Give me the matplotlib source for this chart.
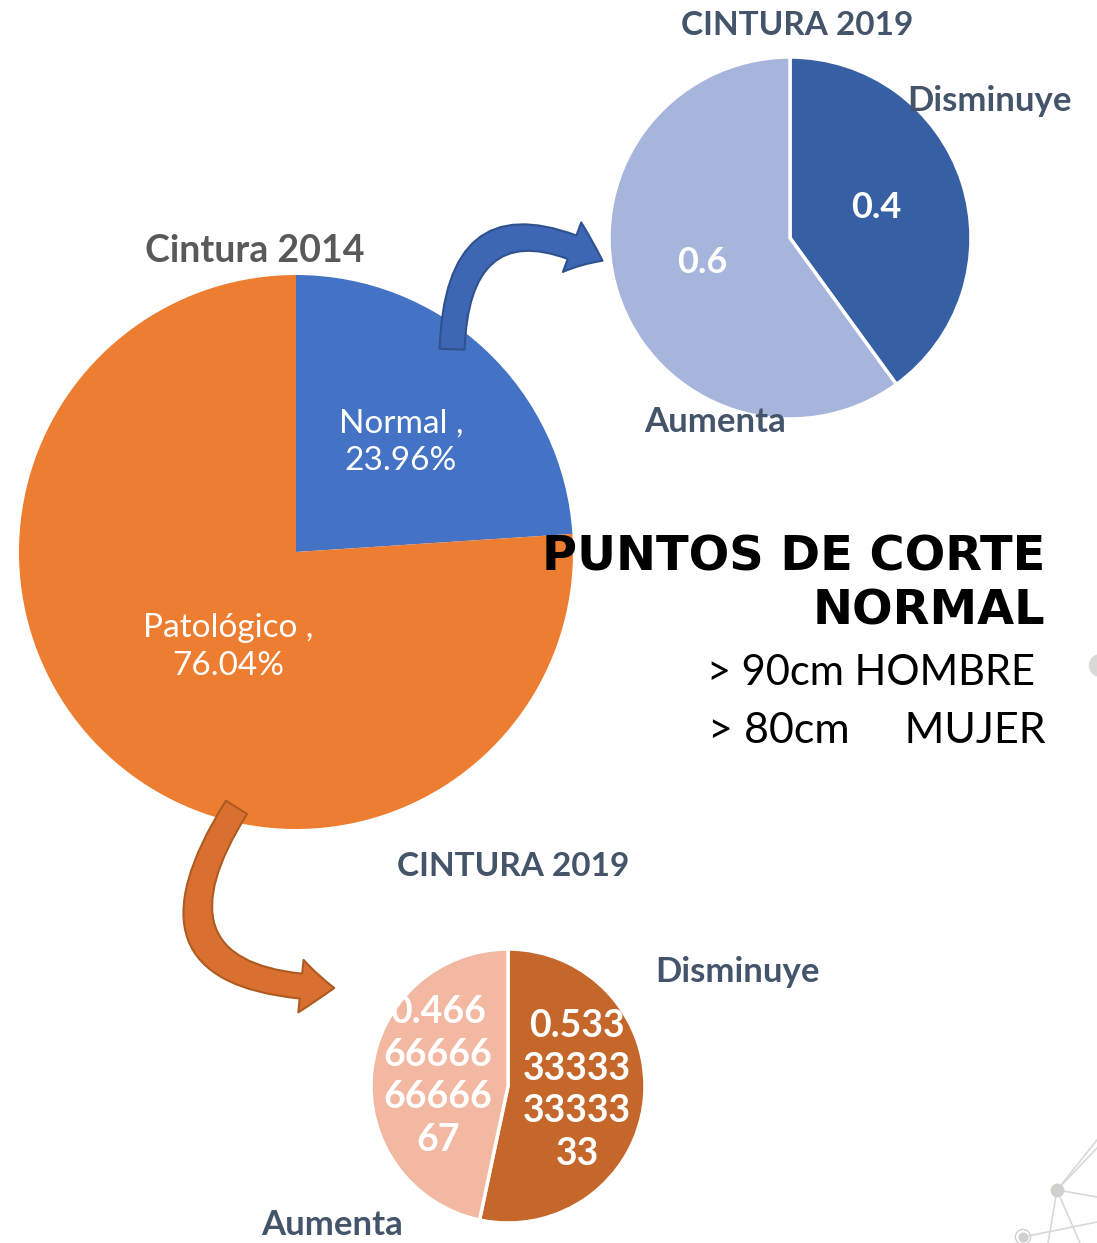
import matplotlib.pyplot as plt
from matplotlib.patches import FancyArrowPatch, Rectangle

# data
main_labels = ["Normal", "Patológico"]
main_values = [23.96, 76.04]
main_colors = ["#4472C4", "#ED7D31"]

top_labels = ["Disminuye", "Aumenta"]
top_values = [0.4, 0.6]
top_colors = ["#375FA3", "#A7B4DC"]

bottom_labels = ["Disminuye", "Aumenta"]
bottom_values = [0.5333333333333333, 0.4666666666666667]
bottom_colors = ["#C5672A", "#F2B8A2"]

W, H = 1097, 1243
fig = plt.figure(figsize=(W / 100, H / 100), dpi=100)
ax = fig.add_axes([0, 0, 1, 1])
ax.set_xlim(0, W)
ax.set_ylim(0, H)
ax.set_aspect("equal")
ax.axis("off")

def fy(y):
    # image row -> data y
    return H - y

title_col = "#44546A"

# background decoration (network lines, bottom right)
deco_lines = [((1057, 1190), (1097, 1148)), ((1057, 1190), (1097, 1140)),
              ((1057, 1190), (1097, 1197)), ((1057, 1190), (1048, 1243)),
              ((1057, 1190), (1080, 1243)), ((1023, 1237), (1097, 1222))]
for (x0, y0), (x1, y1) in deco_lines:
    ax.plot([x0, x1], [fy(y0), fy(y1)], color="#D9DAD7", lw=1.2, zorder=0)
ax.scatter([1057], [fy(1190)], s=80, color="#CFD1CD", zorder=0)
ax.scatter([1023], [fy(1237)], s=40, color="#CFD1CD", zorder=0)
ax.scatter([1023], [fy(1237)], s=120, facecolor="none", edgecolor="#CFD1CD", zorder=0)
ax.scatter([1100], [fy(665)], s=250, color="#D9DAD7", zorder=0)

# main pie (Cintura 2014)
ax.pie(main_values, colors=main_colors, startangle=90, counterclock=False,
       center=(296, fy(552)), radius=277, frame=True)
ax.text(401, fy(442), f"{main_labels[0]} ,\n{main_values[0]:.2f}%", color="white",
        fontsize=24, family="Lato", ha="center", va="center", linespacing=1.3)
ax.text(228, fy(647), f"{main_labels[1]} ,\n{main_values[1]:.2f}%", color="white",
        fontsize=24, family="Lato", ha="center", va="center", linespacing=1.3)
ax.text(255, fy(251), "Cintura 2014", color="#595959", fontsize=27,
        family="Lato", fontweight="bold", ha="center", va="center")

# top right pie
ax.pie(top_values, colors=top_colors, startangle=90, counterclock=False,
       center=(790, fy(238)), radius=181, frame=True,
       wedgeprops=dict(edgecolor="white", linewidth=2.5))
ax.text(876, fy(207), f"{top_values[0]}", color="white", fontsize=26,
        family="Lato", fontweight="bold", ha="center", va="center")
ax.text(702, fy(262), f"{top_values[1]}", color="white", fontsize=26,
        family="Lato", fontweight="bold", ha="center", va="center")
ax.text(990, fy(101), top_labels[0], color=title_col, fontsize=25,
        family="Lato", fontweight="bold", ha="center", va="center")
ax.text(715, fy(422), top_labels[1], color=title_col, fontsize=25,
        family="Lato", fontweight="bold", ha="center", va="center")
ax.text(797, fy(25), "CINTURA 2019", color=title_col, fontsize=24,
        family="Lato", fontweight="bold", ha="center", va="center")

# bottom pie
ax.pie(bottom_values, colors=bottom_colors, startangle=90, counterclock=False,
       center=(508, fy(1086)), radius=137, frame=True,
       wedgeprops=dict(edgecolor="white", linewidth=2.5))

def wrap(v, n=5):
    s = f"{v:.15g}"
    return "\n".join(s[i:i + n] for i in range(0, len(s), n))

ax.text(577, fy(1090), wrap(bottom_values[0]), color="white", fontsize=27,
        family="Lato", fontweight="bold", ha="center", va="center", linespacing=1.3)
t = ax.text(438, fy(1076), wrap(bottom_values[1]), color="white", fontsize=27,
            family="Lato", fontweight="bold", ha="center", va="center", linespacing=1.3)
clip = Rectangle((389, 0), 300, H, transform=ax.transData)
t.set_clip_path(clip)
ax.text(737, fy(972), bottom_labels[0], color=title_col, fontsize=25,
        family="Lato", fontweight="bold", ha="center", va="center")
ax.text(332, fy(1225), bottom_labels[1], color=title_col, fontsize=25,
        family="Lato", fontweight="bold", ha="center", va="center")
ax.text(513, fy(866), "CINTURA 2019", color=title_col, fontsize=24,
        family="Lato", fontweight="bold", ha="center", va="center")

# curved arrows
blue_arrow = FancyArrowPatch((452, fy(352)), (605, fy(262)),
                             connectionstyle="arc3,rad=-0.8",
                             arrowstyle="simple,head_length=24,head_width=38,tail_width=18",
                             facecolor="#3D67B5", edgecolor="#2F528F", lw=1.5, zorder=5)
ax.add_patch(blue_arrow)
orange_arrow = FancyArrowPatch((238, fy(805)), (337, fy(988)),
                               connectionstyle="arc3,rad=0.9",
                               arrowstyle="simple,head_length=24,head_width=38,tail_width=18",
                               facecolor="#DA7030", edgecolor="#AE5A21", lw=1.5, zorder=5)
ax.add_patch(orange_arrow)

# cut-off text
ax.text(1045, fy(584), "PUNTOS DE CORTE\nNORMAL", color="black", fontsize=34.5,
        family="DejaVu Sans", fontweight="bold", ha="right", va="center",
        multialignment="right", linespacing=1.2)
ax.text(1035, fy(673), "> 90cm HOMBRE", color="black", fontsize=30,
        family="Lato", ha="right", va="center")
ax.text(1046, fy(731), "> 80cm     MUJER", color="black", fontsize=31,
        family="Lato", ha="right", va="center")

fig.savefig("out.png", dpi=100)
